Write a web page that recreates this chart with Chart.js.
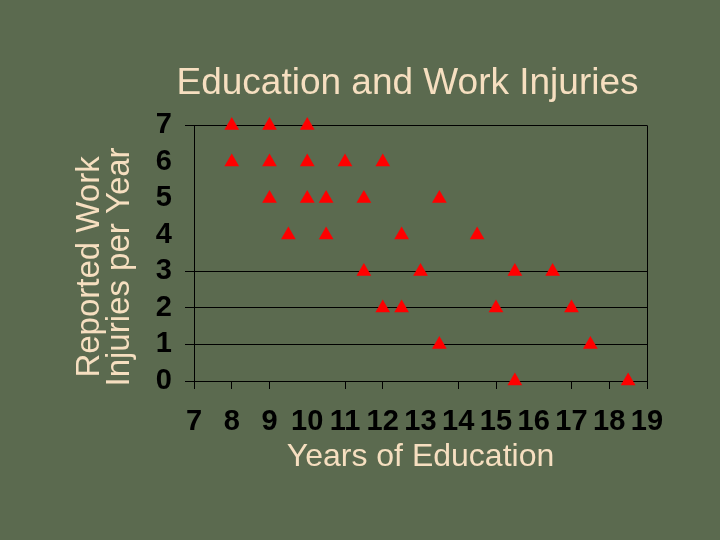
<!DOCTYPE html>
<html>
<head>
<meta charset="utf-8">
<script src="https://cdn.jsdelivr.net/npm/chart.js@4"></script>
<style>
  html, body { margin: 0; padding: 0; background: #5b6a4f; }
</style>
</head>
<body>
<canvas id="chart" width="720" height="540"></canvas>
<script>
// years of education per person
const years = [
    8, 9, 10,
    8, 9, 10, 11, 12,
    9, 10, 10.5, 11.5, 13.5,
    9.5, 10.5, 12.5, 14.5,
    11.5, 13, 15.5, 16.5,
    12, 12.5, 15, 17,
    13.5, 17.5,
    15.5, 18.5,
];
// reported injuries for the same people
const injuries = [
    7, 7, 7,
    6, 6, 6, 6, 6,
    5, 5, 5, 5, 5,
    4, 4, 4, 4,
    3, 3, 3, 3,
    2, 2, 2, 2,
    1, 1,
    0, 0,
];

const textColor = '#f6dfc0';
const font = 'Liberation Sans, Arial, sans-serif';

const points = years.map((x, i) => ({ x: x, y: injuries[i] }));

const background = {
    id: 'background',
    beforeDraw(chart) {
        const ctx = chart.ctx;
        ctx.save();
        ctx.fillStyle = '#5b6a4f';
        ctx.fillRect(0, 0, chart.width, chart.height);
        ctx.restore();
    },
};

// the slide title sits a bit left of the plot centre
const titleShift = {
    id: 'titleShift',
    afterLayout(chart) {
        if (chart.titleBlock) {
            chart.titleBlock.left = 167;
            chart.titleBlock.right = 648;
        }
    },
};

const config = {
    type: 'scatter',
    data: {
        datasets: [
            {
                label: 'Injuries',
                data: points,
                pointStyle: 'triangle',
                pointRadius: 8.5,
                pointHoverRadius: 8.5,
                backgroundColor: '#ff0000',
                borderColor: '#ff0000',
                borderWidth: 0,
                clip: false,
            },
        ],
    },
    options: {
        responsive: false,
        animation: false,
        layout: {
            padding: { left: 70, right: 73, top: 0, bottom: 0 },
        },
        plugins: {
            legend: { display: false },
            tooltip: { enabled: false },
            title: {
                display: true,
                text: 'Education and Work Injuries',
                color: textColor,
                font: { family: font, size: 37, weight: 'normal', lineHeight: 1.2 },
                padding: { top: 62, bottom: 19 },
            },
        },
        scales: {
            x: {
                type: 'linear',
                min: 7,
                max: 19,
                afterFit(scale) {
                    scale.height = 159;
                },
                border: { color: '#000', width: 1 },
                grid: {
                    color: ctx => ctx.tick && ctx.tick.value === 19 ? '#000' : 'rgba(0,0,0,0)',
                    tickColor: ctx => [10, 13, 16].includes(ctx.tick.value) ? 'rgba(0,0,0,0)' : '#000',
                    tickLength: 8,
                    lineWidth: 1,
                },
                ticks: {
                    stepSize: 1,
                    autoSkip: false,
                    maxRotation: 0,
                    padding: 16,
                    color: '#000',
                    font: { family: font, size: 29, weight: 'bold' },
                },
                title: {
                    display: true,
                    text: 'Years of Education',
                    color: textColor,
                    font: { family: font, size: 32, weight: 'normal', lineHeight: 1.2 },
                    padding: { top: 0, bottom: 64 },
                },
            },
            y: {
                min: 0,
                max: 7,
                afterFit(scale) {
                    scale.width = 124;
                },
                border: { color: '#000', width: 1 },
                grid: {
                    color: ctx => [4, 5, 6].includes(ctx.tick.value) ? 'rgba(0,0,0,0)' : '#000',
                    tickLength: 9,
                    lineWidth: 1,
                },
                ticks: {
                    stepSize: 1,
                    autoSkip: false,
                    padding: 13,
                    color: '#000',
                    font: { family: font, size: 29, weight: 'bold' },
                },
                title: {
                    display: true,
                    // trailing spaces push the centred lines a little lower, as in the slide
                    text: ['Reported Work   ', 'Injuries per Year   '],
                    color: textColor,
                    font: { family: font, size: 33, weight: 'normal', lineHeight: 0.9 },
                    padding: { top: 5, bottom: 0 },
                },
            },
        },
    },
    plugins: [background, titleShift],
};

const element = document.getElementById('chart');
const chart = new Chart(element, config);
</script>
</body>
</html>
